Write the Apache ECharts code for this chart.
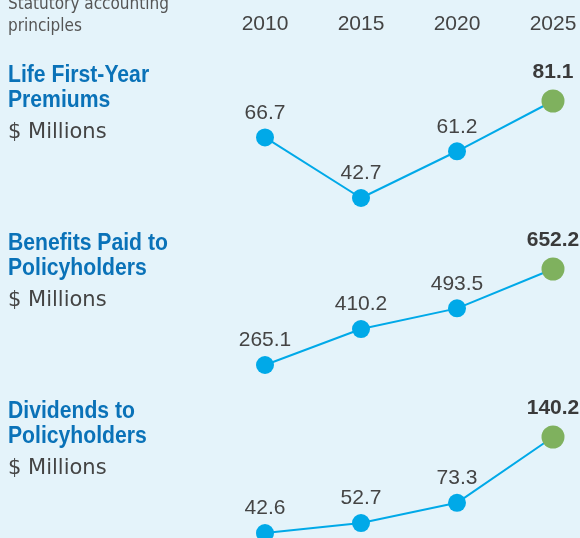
<!DOCTYPE html>
<html>
<head>
<meta charset="utf-8">
<script src="https://cdn.jsdelivr.net/npm/echarts@6/dist/echarts.min.js"></script>
<style>
html,body{margin:0;padding:0;background:#e4f3fa;}
#chart{width:580px;height:538px;}
</style>
</head>
<body>
<div id="chart"></div>
<script>
const years = ['2010', '2015', '2020', '2025'];
const lifePremiums = [66.7, 42.7, 61.2, 81.1];
const benefitsPaid = [265.1, 410.2, 493.5, 652.2];
const dividends = [42.6, 52.7, 73.3, 140.2];
const panelTitles = [
  ['Life First-Year', 'Premiums'],
  ['Benefits Paid to', 'Policyholders'],
  ['Dividends to', 'Policyholders']
];
const unitLabel = '$ Millions';
const headerLines = ['Statutory accounting', 'principles'];

const NUM_FONT = '"Liberation Sans", Arial, sans-serif';
const COND_FONT = '"DejaVu Sans Condensed", "DejaVu Sans", sans-serif';
const WIDE_FONT = '"DejaVu Sans", sans-serif';
const BLUE_LINE = '#00a9e8';
const GREEN = '#7fb15e';
const TITLE_BLUE = '#0a72b8';
const TEXT = '#444444';

const seriesData = [lifePremiums, benefitsPaid, dividends];
const gridTops = [101, 269, 437];
const gridHeights = [97, 96, 96];

const chart = echarts.init(document.getElementById('chart'), null, {renderer: 'canvas'});

const grids = [], xAxes = [], yAxes = [], series = [], graphics = [];

seriesData.forEach((vals, i) => {
  grids.push({left: 265, right: 27, top: gridTops[i], height: gridHeights[i], containLabel: false});
  xAxes.push({
    type: 'category', data: years, gridIndex: i, boundaryGap: false,
    position: 'top', offset: i === 0 ? 60 : 0,
    axisLine: {show: false}, axisTick: {show: false}, splitLine: {show: false},
    axisLabel: {show: i === 0, color: TEXT, fontFamily: NUM_FONT, fontSize: 21, margin: 6}
  });
  yAxes.push({
    type: 'value', gridIndex: i, show: false,
    min: Math.min(...vals), max: Math.max(...vals)
  });
  const last = vals.length - 1;
  series.push({
    type: 'line', xAxisIndex: i, yAxisIndex: i,
    data: vals.map((v, j) => j === last ? {
      value: v, symbolSize: 23,
      itemStyle: {color: GREEN},
      label: {fontWeight: 'bold', color: '#3a3a3a', distance: 7}
    } : v),
    symbol: 'circle', symbolSize: 18, showSymbol: true,
    clip: false, silent: true,
    lineStyle: {color: BLUE_LINE, width: 2},
    itemStyle: {color: BLUE_LINE},
    label: {show: true, position: 'top', distance: 5, color: TEXT, fontFamily: NUM_FONT, fontSize: 21,
      formatter: p => p.value.toFixed(1)},
    z: 3
  });
  const off = 168 * i;
  graphics.push({type: 'text', left: 8, top: 64 + off, scaleX: 0.92,
    style: {text: panelTitles[i][0], fill: TITLE_BLUE, font: 'bold 23px ' + NUM_FONT}});
  graphics.push({type: 'text', left: 8, top: 89 + off, scaleX: 0.92,
    style: {text: panelTitles[i][1], fill: TITLE_BLUE, font: 'bold 23px ' + NUM_FONT}});
  graphics.push({type: 'text', left: 8, top: 122 + off,
    style: {text: unitLabel, fill: TEXT, font: '21px ' + WIDE_FONT}});
});

graphics.push({type: 'text', left: 8, top: -4,
  style: {text: headerLines[0], fill: '#555555', font: '17px ' + COND_FONT}});
graphics.push({type: 'text', left: 8, top: 18,
  style: {text: headerLines[1], fill: '#555555', font: '17px ' + COND_FONT}});

chart.setOption({
  backgroundColor: '#e4f3fa',
  animation: false,
  grid: grids, xAxis: xAxes, yAxis: yAxes, series: series,
  graphic: graphics
});
</script>
</body>
</html>
